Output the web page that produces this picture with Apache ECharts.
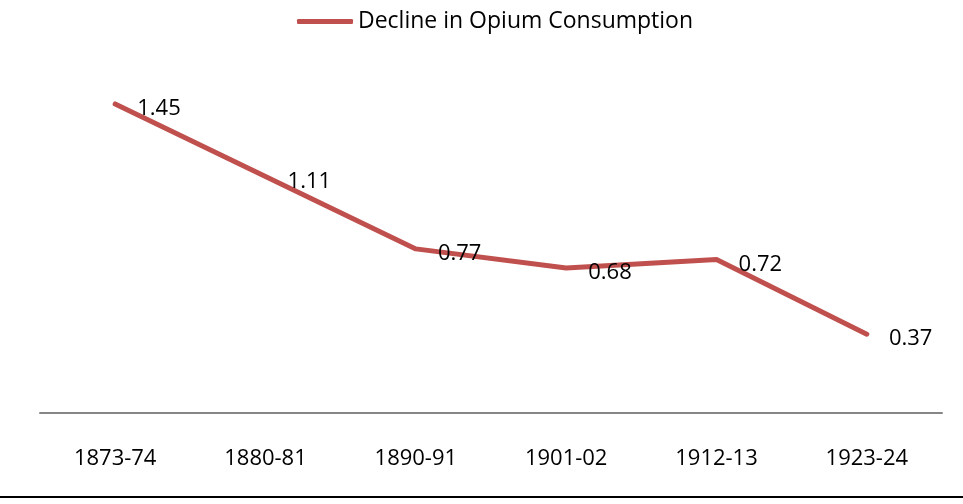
<!DOCTYPE html>
<html>
<head>
<meta charset="utf-8">
<script src="https://cdn.jsdelivr.net/npm/echarts@6/dist/echarts.min.js"></script>
<style>html,body{margin:0;padding:0;background:#fff}#c{width:963px;height:504px}</style>
</head>
<body>
<div id="c"></div>
<script>
const categories = ['1873-74', '1880-81', '1890-91', '1901-02', '1912-13', '1923-24'];
const consumption = [1.45, 1.11, 0.77, 0.68, 0.72, 0.37];
const seriesName = 'Decline in Opium Consumption';

const FONT = 'Open Sans';
const RED = '#C0504D';
const chart = echarts.init(document.getElementById('c'));
chart.setOption({
  animation: false,
  backgroundColor: '#fff',
  textStyle: { fontFamily: FONT },
  legend: {
    top: 5,
    left: 292,
    itemWidth: 56,
    itemHeight: 5,
    itemGap: 4,
    icon: 'roundRect',
    itemStyle: { color: RED, opacity: 1 },
    textStyle: { fontFamily: FONT, fontSize: 23, color: '#000' },
    data: [{ name: seriesName, itemStyle: { color: RED, opacity: 1 } }]
  },
  grid: { left: 40, right: 21, top: 72, bottom: 91 },
  xAxis: {
    type: 'category',
    data: categories,
    boundaryGap: true,
    axisLine: { show: true, lineStyle: { color: '#868686', width: 2 } },
    axisTick: { show: false },
    axisLabel: { margin: 35, fontFamily: FONT, fontSize: 22, color: '#000' }
  },
  yAxis: {
    type: 'value',
    min: 0,
    max: 1.6,
    show: false,
    splitLine: { show: false }
  },
  series: [{
    name: seriesName,
    type: 'line',
    data: consumption,
    showSymbol: true,
    symbol: 'circle',
    symbolSize: 0.1,
    lineStyle: { color: RED, width: 5, cap: 'round' },
    itemStyle: { color: RED },
    label: {
      show: true,
      position: 'right',
      distance: 22,
      offset: [0, 5],
      fontFamily: FONT,
      fontSize: 22,
      color: '#000'
    }
  }],
  graphic: [{
    type: 'line',
    shape: { x1: 0, y1: 497, x2: 963, y2: 497 },
    style: { stroke: '#000', lineWidth: 2 }
  }]
});
</script>
</body>
</html>
